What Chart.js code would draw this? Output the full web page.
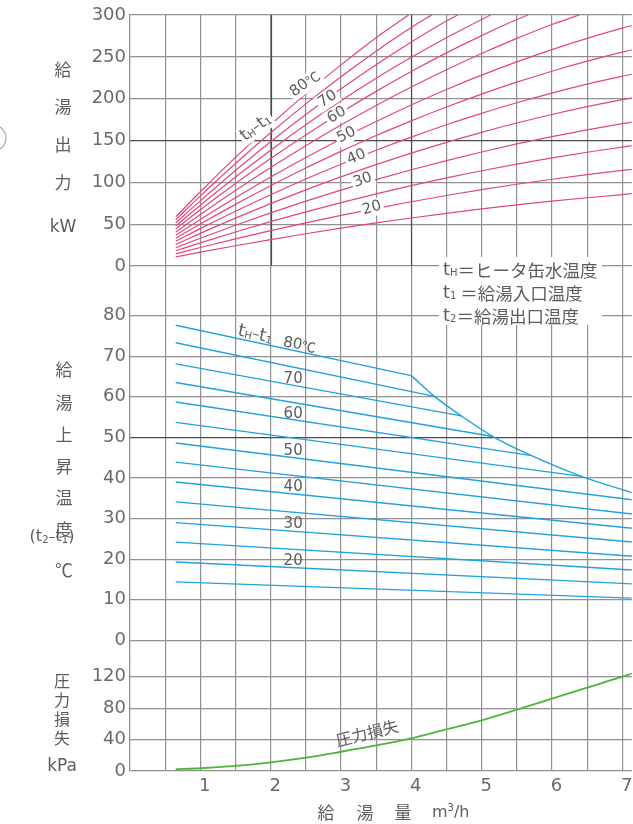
<!DOCTYPE html>
<html>
<head>
<meta charset="utf-8">
<script src="https://cdn.jsdelivr.net/npm/chart.js@4/dist/chart.umd.min.js"></script>
<style>
  html, body { margin: 0; padding: 0; background: #fff; overflow: hidden; }
  #wrap { position: relative; width: 633px; height: 824px; }
</style>
</head>
<body>
<div id="wrap"><canvas id="c" width="633" height="824"></canvas></div>
<script>
// ---- flow axis (m3/h) ----
const flowGrid = [0, 0.5, 1, 1.5, 2, 2.5, 3, 3.5, 4, 4.5, 5, 5.5, 6, 6.5, 7];
const flowLabelVals = [1, 2, 3, 4, 5, 6, 7];
const flowLabels = ['1', '2', '3', '4', '5', '6', '7'];

// ---- panel tick values ----
const outputTicks = [0, 50, 100, 150, 200, 250, 300];   // kW
const riseTicks = [0, 10, 20, 30, 40, 50, 60, 70, 80];  // deg C
const lossTicks = [0, 40, 80, 120];                     // kPa

// ---- heat output (kW) for each tH - t1 line, [flow, kW] ----
const kw80 = [[0.65,58.7],[1,88.7],[1.5,129.9],[2,168.9],[2.5,205.7],[3,240.4],[3.5,272.9],[3.96,300]];
const kw75 = [[0.65,55.4],[1,83.8],[1.5,122.6],[2,159.2],[2.5,193.8],[3,226.3],[3.5,256.8],[4,285.1],[4.29,300]];
const kw70 = [[0.65,51.5],[1,77.9],[1.5,114.1],[2,148.5],[2.5,181.1],[3,211.8],[3.5,240.6],[4,267.7],[4.5,292.9],[4.66,300]];
const kw65 = [[0.65,48.0],[1,72.7],[1.5,106.4],[2,138.4],[2.5,168.8],[3,197.4],[3.5,224.3],[4,249.4],[4.5,272.9],[5,294.7],[5.13,300]];
const kw60 = [[0.65,44.4],[1,67.2],[1.5,98.5],[2,128.4],[2.5,156.6],[3,183.4],[3.5,208.7],[4,232.4],[4.5,254.7],[5,275.4],[5.5,294.6],[5.66,300]];
const kw55 = [[0.65,40.6],[1,61.5],[1.5,90.3],[2,117.7],[2.5,143.8],[3,168.5],[3.5,191.9],[4,213.9],[4.5,234.6],[5,253.9],[5.5,272.0],[6,288.7],[6.39,300]];
const kw50 = [[0.65,36.7],[1,55.7],[1.5,81.6],[2,106.3],[2.5,129.7],[3,151.9],[3.5,172.8],[4,192.5],[4.5,211.0],[5,228.1],[5.5,244.0],[6,258.7],[6.5,272.1],[7,284.3],[7.15,287.7]];
const kw45 = [[0.65,33.2],[1,50.3],[1.5,73.7],[2,95.9],[2.5,117.1],[3,137.0],[3.5,155.9],[4,173.5],[4.5,190.1],[5,205.5],[5.5,219.7],[6,232.8],[6.5,244.8],[7,255.6],[7.15,258.6]];
const kw40 = [[0.65,29.5],[1,44.7],[1.5,65.4],[2,85.2],[2.5,104.0],[3,121.7],[3.5,138.4],[4,154.1],[4.5,168.8],[5,182.4],[5.5,195.1],[6,206.7],[6.5,217.3],[7,226.8],[7.15,229.5]];
const kw35 = [[0.65,25.8],[1,39.0],[1.5,57.2],[2,74.5],[2.5,91.0],[3,106.5],[3.5,121.1],[4,134.9],[4.5,147.8],[5,159.8],[5.5,170.9],[6,181.1],[6.5,190.4],[7,198.8],[7.15,201.2]];
const kw30 = [[0.65,21.9],[1,33.2],[1.5,48.7],[2,63.5],[2.5,77.5],[3,90.7],[3.5,103.2],[4,115.0],[4.5,126.0],[5,136.3],[5.5,145.9],[6,154.7],[6.5,162.8],[7,170.1],[7.15,172.1]];
const kw25 = [[0.65,18.3],[1,27.7],[1.5,40.6],[2,53.0],[2.5,64.7],[3,75.7],[3.5,86.2],[4,96.0],[4.5,105.3],[5,113.9],[5.5,121.8],[6,129.2],[6.5,136.0],[7,142.1],[7.15,143.9]];
const kw20 = [[0.65,14.6],[1,22.1],[1.5,32.4],[2,42.3],[2.5,51.6],[3,60.5],[3.5,68.9],[4,76.8],[4.5,84.3],[5,91.2],[5.5,97.7],[6,103.7],[6.5,109.2],[7,114.2],[7.15,115.6]];
const kw15 = [[0.65,10.9],[1,16.5],[1.5,24.2],[2,31.6],[2.5,38.6],[3,45.2],[3.5,51.5],[4,57.4],[4.5,63.0],[5,68.2],[5.5,73.1],[6,77.5],[6.5,81.6],[7,85.4],[7.15,86.5]];

// ---- temperature rise t2 - t1 (deg C), [flow, degC] ----
const rise80 = [[0.65,77.6],[4.0,65.2]];
const rise75 = [[0.65,73.3],[4.33,60.1]];
const rise70 = [[0.65,68.1],[4.71,55.3]];
const rise65 = [[0.65,63.5],[5.16,50.2]];
const rise60 = [[0.65,58.7],[5.71,45.5]];
const rise55 = [[0.65,53.7],[6.42,40.4]];
const rise50 = [[0.65,48.6],[7.15,34.6]];
const rise45 = [[0.65,43.9],[7.15,31.1]];
const rise40 = [[0.65,39.0],[7.15,27.6]];
const rise35 = [[0.65,34.1],[7.15,24.2]];
const rise30 = [[0.65,29.0],[7.15,20.7]];
const rise25 = [[0.65,24.2],[7.15,17.3]];
const rise20 = [[0.65,19.3],[7.15,13.9]];
const rise15 = [[0.65,14.4],[7.15,10.4]];
// output-limit boundary of the rise lines
const riseLimit = [[4.0,65.2],[4.33,60.1],[4.71,55.3],[5.16,50.2],[5.71,45.5],[6.42,40.4],[7.15,36.3]];

// ---- pressure loss (kPa) ----
const lossFlow = [0.65, 1, 1.5, 2, 2.5, 3, 3.5, 4, 4.5, 5, 5.5, 6, 6.5, 7, 7.15];
const lossKPa  = [2.5, 3.5, 6.5, 11, 17, 24.5, 32.5, 41.5, 53, 64.5, 78, 92, 106, 120, 124.5];

// ---------------------------------------------------------------
const PINK = '#e2467d';
const BLUE = '#22a2dc';
const GREEN = '#4fb53a';
const GRID = '#919191';
const GRID_DARK = '#4a4a4a';
const TICK_TXT = '#6a6a6a';
const TXT = '#5c5c5c';
const NUM_FONT = '"DejaVu Sans", sans-serif';
const JP_FONT = '"Noto Sans CJK JP", sans-serif';

const toXY = s => s.map(([x, y]) => ({ x, y }));
const datasets = [];
[kw80, kw75, kw70, kw65, kw60, kw55, kw50, kw45, kw40, kw35, kw30, kw25, kw20, kw15].forEach(s => {
  datasets.push({ data: toXY(s), yAxisID: 'yOut', borderColor: PINK, borderWidth: 1.2,
                  cubicInterpolationMode: 'monotone', pointRadius: 0, fill: false });
});
[rise80, rise75, rise70, rise65, rise60, rise55, rise50, rise45, rise40, rise35, rise30, rise25, rise20, rise15].forEach(s => {
  datasets.push({ data: toXY(s), yAxisID: 'yRise', borderColor: BLUE, borderWidth: 1.4,
                  tension: 0, pointRadius: 0, fill: false });
});
datasets.push({ data: toXY(riseLimit), yAxisID: 'yRise', borderColor: BLUE, borderWidth: 1.4,
                cubicInterpolationMode: 'monotone', pointRadius: 0, fill: false });
datasets.push({ data: lossFlow.map((x, i) => ({ x, y: lossKPa[i] })), yAxisID: 'yLoss',
                borderColor: GREEN, borderWidth: 1.8, cubicInterpolationMode: 'monotone',
                pointRadius: 0, fill: false });

function yAxis(stackWeight, min, max, tickVals, darkVal) {
  return {
    type: 'linear', position: 'left', stack: 'panels', stackWeight, min, max,
    afterBuildTicks: s => { s.ticks = tickVals.map(v => ({ value: v })); },
    afterFit: s => { s.width = 130; },
    grid: {
      color: c => (c.tick && c.tick.value === darkVal) ? GRID_DARK : GRID,
      lineWidth: 1.2, drawTicks: false
    },
    border: { color: GRID, width: 1.2 },
    ticks: { autoSkip: false, font: { family: 'DejaVu Sans', size: 18 }, color: TICK_TXT, padding: 4,
             callback: v => String(v) }
  };
}

// draw a run of text pieces (sub/superscripts) around an anchor
function rich(ctx, parts, x, y, opt) {
  const o = Object.assign({ rot: 0, align: 'center', bg: false, color: TXT }, opt || {});
  ctx.save();
  ctx.translate(x, y);
  ctx.rotate(o.rot * Math.PI / 180);
  let w = 0;
  for (const p of parts) { ctx.font = p.size + 'px ' + p.family; p.w = ctx.measureText(p.t).width; w += p.w; }
  let x0 = o.align === 'center' ? -w / 2 : 0;
  const h = Math.max(...parts.map(p => p.size));
  if (o.bg) { ctx.fillStyle = '#fff'; ctx.fillRect(x0 - 2, -h / 2 - 1, w + 4, h + 2); }
  ctx.fillStyle = o.color;
  ctx.textBaseline = 'middle';
  ctx.textAlign = 'left';
  for (const p of parts) {
    ctx.font = p.size + 'px ' + p.family;
    ctx.fillText(p.t, x0, p.dy || 0);
    x0 += p.w;
  }
  ctx.restore();
}
const N = (t, size, dy) => ({ t, size, dy, family: NUM_FONT });
const J = (t, size, dy) => ({ t, size, dy, family: JP_FONT });

const annotate = {
  id: 'annotate',
  beforeDatasetsDraw(chart) {
    // heavier verticals at 2 and 4 m3/h inside the output panel
    const { ctx } = chart;
    const { x, yOut } = chart.scales;
    ctx.save();
    ctx.strokeStyle = GRID_DARK;
    ctx.lineWidth = 1.2;
    [2, 4].forEach(v => {
      const px = Math.round(x.getPixelForValue(v)) + 0.5;
      ctx.beginPath();
      ctx.moveTo(px, yOut.getPixelForValue(300));
      ctx.lineTo(px, yOut.getPixelForValue(0));
      ctx.stroke();
    });
    ctx.restore();
  },
  afterDatasetsDraw(chart) {
    const { ctx } = chart;
    const { x, yOut, yRise, yLoss } = chart.scales;
    const P = (sc, fx, fy) => [x.getPixelForValue(fx), sc.getPixelForValue(fy)];

    // line labels in the output panel
    let [px, py] = P(yOut, 1.79, 165.5);
    rich(ctx, [N('t', 17), N('H', 10, 3), N('–', 14), N('t', 17), N('1', 10, 3)], px, py, { rot: -36, bg: true });
    [px, py] = P(yOut, 2.49, 217.5);
    rich(ctx, [N('80', 15), J('℃', 14)], px, py, { rot: -36, bg: true });
    const outLbl = [['70', 2.81, 199.6, -33], ['60', 2.94, 180.5, -30], ['50', 3.08, 156.6, -27],
                    ['40', 3.22, 130.3, -23], ['30', 3.31, 102.8, -20], ['20', 3.44, 69.3, -16]];
    outLbl.forEach(([t, fx, fy, r]) => { const [a, b] = P(yOut, fx, fy); rich(ctx, [N(t, 15)], a, b, { rot: r, bg: true }); });

    // line labels in the rise panel
    [px, py] = P(yRise, 1.78, 75.3);
    rich(ctx, [N('t', 18), N('H', 10, 3), N('–', 14), N('t', 18), N('1', 10, 3)], px, py, { rot: 13 });
    [px, py] = P(yRise, 2.41, 72.7);
    rich(ctx, [N('80', 15), J('℃', 14)], px, py, { rot: 10 });
    [['70', 64.4], ['60', 55.8], ['50', 46.7], ['40', 37.8], ['30', 28.7], ['20', 19.6]].forEach(([t, fy]) => {
      const [a, b] = P(yRise, 2.32, fy);
      rich(ctx, [N(t, 15)], a, b);
    });

    // pressure-loss curve label
    [px, py] = P(yLoss, 3.37, 48.3);
    rich(ctx, [J('圧力損失', 16)], px, py, { rot: -14 });

    // symbol key
    ctx.save();
    ctx.fillStyle = '#fff';
    ctx.fillRect(439, 257, 163, 68);
    ctx.restore();
    rich(ctx, [N('t', 18), N('H', 10, 3), J('＝ヒータ缶水温度', 17.5)], 443, 270, { align: 'left' });
    rich(ctx, [N('t', 18), N('1', 10, 3), J(' ＝給湯入口温度', 17.5)], 443, 293, { align: 'left' });
    rich(ctx, [N('t', 18), N('2', 10, 3), J('＝給湯出口温度', 17.5)], 443, 316, { align: 'left' });
  },
  afterDraw(chart) {
    const { ctx } = chart;
    // vertical axis titles
    [['給', 70], ['湯', 107], ['出', 145], ['力', 183]].forEach(([t, y]) => rich(ctx, [J(t, 17)], 63, y));
    rich(ctx, [N('kW', 17)], 63, 228);
    [['給', 370], ['湯', 403], ['上', 435], ['昇', 467], ['温', 498]].forEach(([t, y]) => rich(ctx, [J(t, 17)], 64, y));
    rich(ctx, [N('(', 16), N('t', 16), N('2', 10, 3), N('–', 14), N('t', 16), N('1', 10, 3), N(')', 16)], 52, 537);
    rich(ctx, [J('度', 17)], 64, 530);
    rich(ctx, [J('℃', 18)], 64, 570);
    [['圧', 681], ['力', 700], ['損', 719], ['失', 738]].forEach(([t, y]) => rich(ctx, [J(t, 16)], 62, y));
    rich(ctx, [N('kPa', 17)], 62, 767);

    // horizontal axis title
    rich(ctx, [J('給', 17)], 326, 813);
    rich(ctx, [J('湯', 17)], 365, 813);
    rich(ctx, [J('量', 17)], 403, 813);
    rich(ctx, [N('m', 16), N('3', 10, -5), N('/h', 16)], 432, 813, { align: 'left' });

    // page mark at the left margin
    ctx.save();
    ctx.strokeStyle = '#aaa';
    ctx.lineWidth = 1.2;
    ctx.beginPath();
    ctx.arc(-7, 138, 13, -Math.PI / 2, Math.PI / 2);
    ctx.stroke();
    ctx.restore();
  }
};

new Chart(document.getElementById('c'), {
  type: 'line',
  data: { datasets },
  options: {
    responsive: false,
    animation: false,
    devicePixelRatio: 1,
    layout: { padding: { top: 15, right: 0, bottom: 0, left: 0 } },
    plugins: { legend: { display: false }, tooltip: { enabled: false } },
    scales: {
      x: {
        type: 'linear', min: 0, max: 7.135,
        afterBuildTicks: s => { s.ticks = flowGrid.map(v => ({ value: v })); },
        afterFit: s => { s.height = 53; },
        grid: { color: GRID, lineWidth: 1.2, drawTicks: false },
        border: { display: false },
        ticks: {
          autoSkip: false, maxRotation: 0, padding: 5, labelOffset: 4.5,
          font: { family: 'DejaVu Sans', size: 18 }, color: TICK_TXT,
          callback: v => { const i = flowLabelVals.indexOf(v); return i >= 0 ? flowLabels[i] : ''; }
        }
      },
      yLoss: yAxis(112.4, 0, 143.0, lossTicks, null),
      yRise: yAxis(367.4, -4.5, 86, riseTicks, 50),
      yOut: yAxis(276.2, -30.1, 300, outputTicks, 150)
    }
  },
  plugins: [annotate]
});
</script>
</body>
</html>
